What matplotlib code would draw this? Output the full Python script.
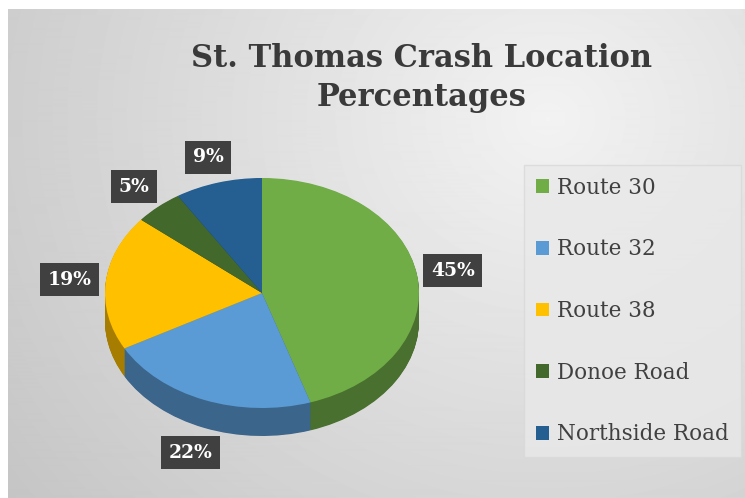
import numpy as np
import matplotlib.pyplot as plt
import matplotlib.colors as mcolors

# data
locations = ['Route 30', 'Route 32', 'Route 38', 'Donoe Road', 'Northside Road']
shares = [45, 22, 19, 5, 9]
top_colors = ['#70AD47', '#5B9BD5', '#FFC000', '#43682B', '#255E91']
title = 'St. Thomas Crash Location\nPercentages'

W, H = 745, 498
fig = plt.figure(figsize=(W / 100, H / 100), dpi=100)
fig.patch.set_facecolor('white')

# gradient background (light area near the top right)
bg = fig.add_axes([8 / W, 0, (W - 8) / W, (H - 9) / H])
yy, xx = np.mgrid[0:489, 0:737]
d = np.hypot(xx - 540, (yy - 110) * 1.1)
shade = 0.95 - 0.17 * (d / 650)
bg.imshow(shade, cmap='gray', vmin=0, vmax=1, aspect='auto', interpolation='bilinear')
bg.axis('off')

# pie axes: unit circle becomes an ellipse (rx 157px, ry 115px)
rx, ry, depth_px = 157, 115, 28
cx, cy = 262, 293
ax_w, ax_h = 420, 360
ax = fig.add_axes([(cx - ax_w / 2) / W, (H - cy - ax_h / 2) / H, ax_w / W, ax_h / H])
depth = depth_px / ry

def darker(c, f):
    r, g, b = mcolors.to_rgb(c)
    return (r * f, g * f, b * f)

side_colors = [darker(c, 0.65) for c in top_colors]
n_layers = 40
for k in range(n_layers, 0, -1):
    ax.pie(shares, colors=side_colors, startangle=90, counterclock=False,
           center=(0, -depth * k / n_layers), radius=1,
           wedgeprops=dict(linewidth=0))

wedges, _, pct_texts = ax.pie(shares, colors=top_colors, startangle=90, counterclock=False,
                              autopct='%1.0f%%', pctdistance=1.23,
                              wedgeprops=dict(linewidth=0),
                              textprops=dict(color='white', fontsize=13.5, fontweight='bold',
                                             family='DejaVu Serif'))
for t in pct_texts:
    x, y = t.get_position()
    if y < 0:
        t.set_position((x, y - depth))
    t.set_ha('center')
    t.set_va('center')
    t.set_bbox(dict(boxstyle='square,pad=0.4', facecolor='#404040', edgecolor='none'))

ax.set_aspect('auto')
ax.set_xlim(-ax_w / 2 / rx, ax_w / 2 / rx)
ax.set_ylim(-ax_h / 2 / ry, ax_h / 2 / ry)
ax.axis('off')

fig.text(422 / W, 1 - 78 / H, title, ha='center', va='center', fontsize=22,
         fontweight='bold', family='DejaVu Serif', color='#3a3a3a', linespacing=1.3)

leg = fig.legend(wedges, locations, loc='upper left', bbox_to_anchor=(524 / W, 1 - 165 / H),
                 frameon=True, fancybox=False, prop=dict(family='DejaVu Serif', size=15.5),
                 labelspacing=1.84, handlelength=0.6, handleheight=0.6, handletextpad=0.4,
                 borderpad=0.55, borderaxespad=0)
leg.get_frame().set_facecolor('#e9e9e9')
leg.get_frame().set_edgecolor('#d9d9d9')
for t in leg.get_texts():
    t.set_color('#404040')

fig.savefig('out.png', dpi=100)
